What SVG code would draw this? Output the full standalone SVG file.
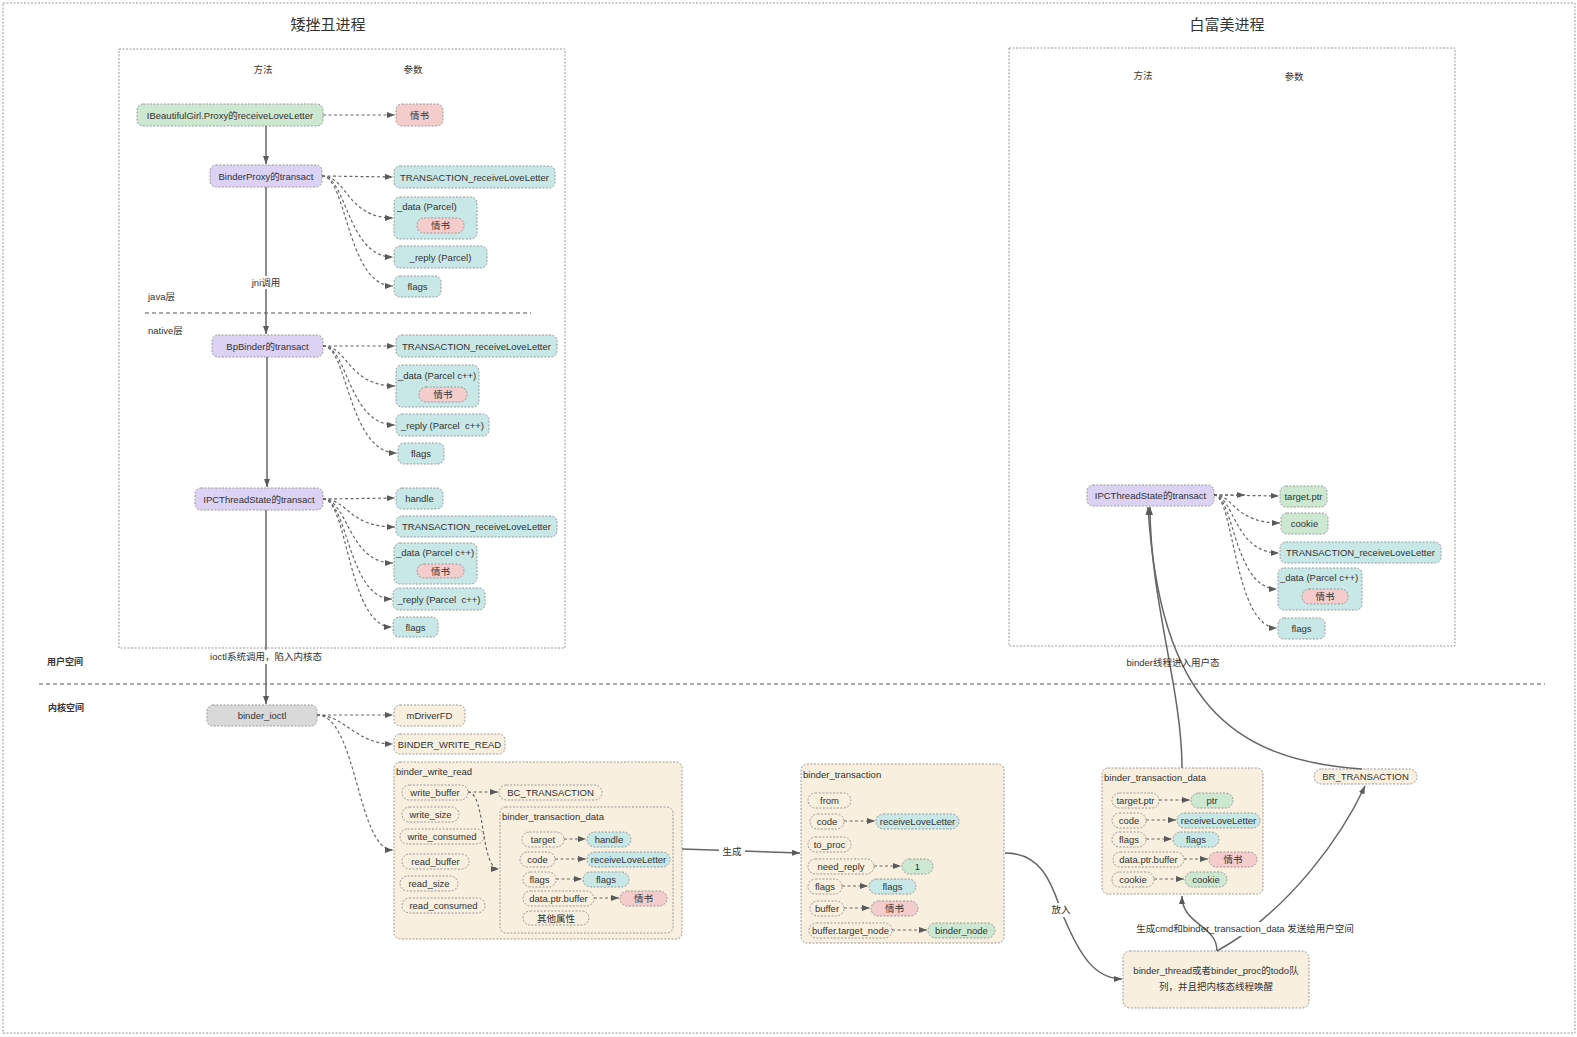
<svg xmlns="http://www.w3.org/2000/svg" width="1577" height="1037" viewBox="0 0 1577 1037">
<defs>
<style>
text{font-family:"Liberation Sans","Noto Sans CJK SC",sans-serif;font-size:9.5px;fill:#333;text-anchor:middle}
.l{text-anchor:start}
.ttl{font-size:15px}
.bold{font-weight:bold;font-size:9px}
.n{stroke:#9a9a9a;stroke-width:1;stroke-dasharray:2 1.5}
.g{fill:#cde8d1}.p{fill:#f4cccc}.v{fill:#dcd2f4}.t{fill:#c8e7e7}.b{fill:#f8efde}.gr{fill:#d9d9d9}.w{fill:none}
.d{fill:none;stroke:#666;stroke-width:1.2;stroke-dasharray:3 2.5;marker-end:url(#a)}
.s{fill:none;stroke:#666;stroke-width:1.5;marker-end:url(#a)}
.frame{fill:none;stroke:#999;stroke-width:1;stroke-dasharray:2 1.5}
.sep{stroke:#555;stroke-width:1;stroke-dasharray:4 3}
</style>
<marker id="a" viewBox="0 0 8 6" refX="8" refY="3" markerWidth="8" markerHeight="6" markerUnits="userSpaceOnUse" orient="auto"><path d="M0,0 L8,3 L0,6 z" fill="#5a5a5a"/></marker>
</defs>
<rect x="0" y="0" width="1577" height="1037" fill="#fff"/>
<rect class="frame" x="3" y="3" width="1572" height="1030"/>

<g id="titles">
<text class="ttl" x="328" y="30">矮挫丑进程</text>
<text class="ttl" x="1227" y="30">白富美进程</text>
</g>

<g id="process-left">
<rect class="frame" x="119" y="49" width="446" height="599"/>
<text x="263" y="73">方法</text>
<text x="413" y="73">参数</text>
<text class="l" x="148" y="300">java层</text>
<text class="l" x="148" y="334">native层</text>
<line class="sep" x1="145" y1="313" x2="531" y2="313"/>
</g>
<g id="process-right">
<rect class="frame" x="1009" y="48" width="446" height="598"/>
<text x="1143" y="79">方法</text>
<text x="1294" y="80">参数</text>
</g>
<g id="space-labels">
<text class="bold" x="65" y="665">用户空间</text>
<text class="bold" x="66" y="711">内核空间</text>
<line class="sep" x1="39" y1="684" x2="1545" y2="684"/>
</g>

<g id="n-ibeautiful"><rect class="n g" x="137" y="104" width="186" height="22" rx="6"/><text x="230" y="118.5">IBeautifulGirl.Proxy的receiveLoveLetter</text></g>
<g id="n-qs1"><rect class="n p" x="396" y="104" width="47" height="22" rx="6"/><text x="419.5" y="118.5">情书</text></g>
<g id="n-binderproxy"><rect class="n v" x="210" y="165" width="112" height="22" rx="6"/><text x="266" y="179.5">BinderProxy的transact</text></g>
<g id="n-bp-code"><rect class="n t" x="394" y="166" width="161" height="22" rx="6"/><text x="474.5" y="180.5">TRANSACTION_receiveLoveLetter</text></g>
<g id="n-bp-data"><rect class="n t" x="394" y="197" width="83" height="42" rx="6"/><text class="l" x="397" y="210">_data (Parcel)</text><rect class="n p" x="417" y="218" width="47" height="15" rx="7"/><text x="440.5" y="229">情书</text></g>
<g id="n-bp-reply"><rect class="n t" x="394" y="246" width="93" height="22" rx="6"/><text x="440.5" y="260.5">_reply (Parcel)</text></g>
<g id="n-bp-flags"><rect class="n t" x="394" y="276" width="47" height="21" rx="6"/><text x="417.5" y="290">flags</text></g>

<g id="n-bpbinder"><rect class="n v" x="212" y="335" width="111" height="22" rx="6"/><text x="267.5" y="349.5">BpBinder的transact</text></g>
<g id="n-bb-code"><rect class="n t" x="396" y="335" width="161" height="22" rx="6"/><text x="476.5" y="349.5">TRANSACTION_receiveLoveLetter</text></g>
<g id="n-bb-data"><rect class="n t" x="396" y="365" width="83" height="42" rx="6"/><text class="l" x="398" y="379">_data (Parcel c++)</text><rect class="n p" x="419" y="387" width="48" height="15" rx="7"/><text x="443" y="398">情书</text></g>
<g id="n-bb-reply"><rect class="n t" x="396" y="414" width="93" height="22" rx="6"/><text x="442.5" y="428.5" xml:space="preserve">_reply (Parcel  c++)</text></g>
<g id="n-bb-flags"><rect class="n t" x="398" y="443" width="46" height="21" rx="6"/><text x="421" y="457">flags</text></g>

<g id="n-ipc-left"><rect class="n v" x="195" y="488" width="128" height="22" rx="6"/><text x="259" y="502.5">IPCThreadState的transact</text></g>
<g id="n-ipc-handle"><rect class="n t" x="396" y="488" width="47" height="21" rx="6"/><text x="419.5" y="502">handle</text></g>
<g id="n-ipc-code"><rect class="n t" x="396" y="516" width="161" height="21" rx="6"/><text x="476.5" y="530">TRANSACTION_receiveLoveLetter</text></g>
<g id="n-ipc-data"><rect class="n t" x="394" y="543" width="83" height="41" rx="6"/><text class="l" x="396" y="556">_data (Parcel c++)</text><rect class="n p" x="417" y="564" width="47" height="14" rx="7"/><text x="440.5" y="574.5">情书</text></g>
<g id="n-ipc-reply"><rect class="n t" x="393" y="588" width="92" height="22" rx="6"/><text x="439" y="602.5" xml:space="preserve">_reply (Parcel  c++)</text></g>
<g id="n-ipc-flags"><rect class="n t" x="393" y="617" width="45" height="20" rx="6"/><text x="415.5" y="630.5">flags</text></g>

<g id="n-binder-ioctl"><rect class="n gr" x="207" y="705" width="110" height="21" rx="6"/><text x="262" y="719">binder_ioctl</text></g>
<g id="n-mdriverfd"><rect class="n b" x="394" y="705" width="71" height="21" rx="6"/><text x="429.5" y="719">mDriverFD</text></g>
<g id="n-bwr-cmd"><rect class="n b" x="394" y="734" width="111" height="20" rx="6"/><text x="449.5" y="747.5">BINDER_WRITE_READ</text></g>

<g id="c-binder-write-read">
<rect class="n b" x="394" y="762" width="288" height="177" rx="6"/>
<text class="l" x="396" y="775">binder_write_read</text>
<rect class="n b" x="402" y="785" width="66" height="15" rx="7.5"/><text x="435" y="796">write_buffer</text>
<rect class="n b" x="499" y="785" width="103" height="15" rx="7.5"/><text x="550.5" y="796">BC_TRANSACTION</text>
<rect class="n b" x="402" y="807" width="57" height="15" rx="7.5"/><text x="430.5" y="818">write_size</text>
<rect class="n b" x="400" y="829" width="84" height="15" rx="7.5"/><text x="442" y="840">write_consumed</text>
<rect class="n b" x="402" y="854" width="67" height="15" rx="7.5"/><text x="435.5" y="865">read_buffer</text>
<rect class="n b" x="400" y="876" width="58" height="15" rx="7.5"/><text x="429" y="887">read_size</text>
<rect class="n b" x="402" y="898" width="83" height="15" rx="7.5"/><text x="443.5" y="909">read_consumed</text>
</g>
<g id="c-btd-left">
<rect class="n b" x="500" y="807" width="173" height="126" rx="6"/>
<text class="l" x="502" y="820">binder_transaction_data</text>
<rect class="n b" x="522" y="832" width="42" height="15" rx="7.5"/><text x="543" y="843">target</text>
<rect class="n t" x="587" y="832" width="44" height="15" rx="7.5"/><text x="609" y="843">handle</text>
<rect class="n b" x="520" y="852" width="35" height="15" rx="7.5"/><text x="537.5" y="863">code</text>
<rect class="n t" x="587" y="852" width="83" height="15" rx="7.5"/><text x="628.5" y="863">receiveLoveLetter</text>
<rect class="n b" x="523" y="872" width="33" height="15" rx="7.5"/><text x="539.5" y="883">flags</text>
<rect class="n t" x="583" y="872" width="46" height="15" rx="7.5"/><text x="606" y="883">flags</text>
<rect class="n b" x="523" y="891" width="71" height="15" rx="7.5"/><text x="558.5" y="902">data.ptr.buffer</text>
<rect class="n p" x="620" y="891" width="47" height="15" rx="7.5"/><text x="643.5" y="902">情书</text>
<rect class="n b" x="523" y="911" width="66" height="14" rx="7"/><text x="556" y="921.5">其他属性</text>
</g>
<g id="c-binder-transaction">
<rect class="n b" x="801" y="764" width="203" height="179" rx="6"/>
<text class="l" x="803" y="778">binder_transaction</text>
<rect class="n b" x="808" y="793" width="43" height="15" rx="7.5"/><text x="829.5" y="804">from</text>
<rect class="n b" x="810" y="814" width="34" height="15" rx="7.5"/><text x="827" y="825">code</text>
<rect class="n t" x="876" y="814" width="83" height="15" rx="7.5"/><text x="917.5" y="825">receiveLoveLetter</text>
<rect class="n b" x="808" y="837" width="43" height="15" rx="7.5"/><text x="829.5" y="848">to_proc</text>
<rect class="n b" x="808" y="859" width="66" height="15" rx="7.5"/><text x="841" y="870">need_reply</text>
<rect class="n g" x="902" y="859" width="31" height="15" rx="7.5"/><text x="917.5" y="870">1</text>
<rect class="n b" x="808" y="879" width="34" height="15" rx="7.5"/><text x="825" y="890">flags</text>
<rect class="n t" x="869" y="879" width="47" height="15" rx="7.5"/><text x="892.5" y="890">flags</text>
<rect class="n b" x="810" y="901" width="34" height="15" rx="7.5"/><text x="827" y="912">buffer</text>
<rect class="n p" x="871" y="901" width="47" height="15" rx="7.5"/><text x="894.5" y="912">情书</text>
<rect class="n b" x="809" y="923" width="83" height="15" rx="7.5"/><text x="850.5" y="934">buffer.target_node</text>
<rect class="n g" x="928" y="923" width="67" height="15" rx="7.5"/><text x="961.5" y="934">binder_node</text>
</g>
<g id="c-btd-right">
<rect class="n b" x="1102" y="768" width="161" height="126" rx="6"/>
<text class="l" x="1104" y="781">binder_transaction_data</text>
<rect class="n b" x="1112" y="793" width="47" height="15" rx="7.5"/><text x="1135.5" y="804">target.ptr</text>
<rect class="n g" x="1191" y="793" width="42" height="15" rx="7.5"/><text x="1212" y="804">ptr</text>
<rect class="n b" x="1112" y="813" width="34" height="15" rx="7.5"/><text x="1129" y="824">code</text>
<rect class="n t" x="1177" y="813" width="83" height="15" rx="7.5"/><text x="1218.5" y="824">receiveLoveLetter</text>
<rect class="n b" x="1112" y="832" width="34" height="15" rx="7.5"/><text x="1129" y="843">flags</text>
<rect class="n t" x="1173" y="832" width="46" height="15" rx="7.5"/><text x="1196" y="843">flags</text>
<rect class="n b" x="1113" y="852" width="71" height="15" rx="7.5"/><text x="1148.5" y="863">data.ptr.buffer</text>
<rect class="n p" x="1209" y="852" width="48" height="15" rx="7.5"/><text x="1233" y="863">情书</text>
<rect class="n b" x="1112" y="872" width="42" height="15" rx="7.5"/><text x="1133" y="883">cookie</text>
<rect class="n g" x="1185" y="872" width="42" height="15" rx="7.5"/><text x="1206" y="883">cookie</text>
</g>
<g id="n-br-transaction"><rect class="n b" x="1314" y="769" width="103" height="15" rx="7.5"/><text x="1365.5" y="780">BR_TRANSACTION</text></g>
<g id="n-todo"><rect class="n b" x="1123" y="951" width="186" height="57" rx="7"/><text x="1216" y="974">binder_thread或者binder_proc的todo队</text><text x="1216" y="990">列，并且把内核态线程唤醒</text></g>

<g id="n-ipc-right"><rect class="n v" x="1087" y="485" width="127" height="21" rx="6"/><text x="1150.5" y="499">IPCThreadState的transact</text></g>
<g id="n-r-target"><rect class="n g" x="1280" y="486" width="47" height="21" rx="6"/><text x="1303.5" y="500">target.ptr</text></g>
<g id="n-r-cookie"><rect class="n g" x="1281" y="513" width="47" height="21" rx="6"/><text x="1304.5" y="527">cookie</text></g>
<g id="n-r-code"><rect class="n t" x="1280" y="542" width="161" height="21" rx="6"/><text x="1360.5" y="556">TRANSACTION_receiveLoveLetter</text></g>
<g id="n-r-data"><rect class="n t" x="1278" y="568" width="84" height="42" rx="6"/><text class="l" x="1280" y="581">_data (Parcel c++)</text><rect class="n p" x="1302" y="589" width="46" height="15" rx="7"/><text x="1325" y="600">情书</text></g>
<g id="n-r-flags"><rect class="n t" x="1278" y="618" width="47" height="21" rx="6"/><text x="1301.5" y="632">flags</text></g>

<g id="connectors">
<path class="s" d="M266,126 L266,164"/>
<path class="s" d="M266,187 L266,334"/>
<path class="s" d="M267,357 L267,487"/>
<path class="s" d="M266,510 L266,704"/>
<path class="d" d="M323,115 L395,115"/>
<path class="d" d="M322,176 L393,177"/>
<path class="d" d="M322,176 C347,176 347,218 393,218"/>
<path class="d" d="M322,176 C347,176 347,257 393,257"/>
<path class="d" d="M322,176 C347,176 347,286 393,286"/>
<path class="d" d="M323,346 L395,346"/>
<path class="d" d="M323,346 C348,346 348,386 395,386"/>
<path class="d" d="M323,346 C348,346 348,425 395,425"/>
<path class="d" d="M323,346 C348,346 348,453 397,453"/>
<path class="d" d="M323,499 L395,498"/>
<path class="d" d="M323,499 C348,499 348,527 395,527"/>
<path class="d" d="M323,499 C348,499 348,563 393,563"/>
<path class="d" d="M323,499 C348,499 348,599 392,599"/>
<path class="d" d="M323,499 C348,499 348,627 392,627"/>
<path class="d" d="M317,715 L393,715"/>
<path class="d" d="M317,715 C345,715 355,744 393,744"/>
<path class="d" d="M317,715 C357,715 357,850 393,850"/>
<path class="d" d="M468,792 L498,792"/>
<path class="d" d="M468,792 C486,792 480,869 499,869"/>
<path class="d" d="M564,839 L586,839"/>
<path class="d" d="M555,859 L586,859"/>
<path class="d" d="M556,879 L582,879"/>
<path class="d" d="M594,898 L619,898"/>
<path class="s" d="M682,849 L800,853"/>
<path class="d" d="M844,821 L875,821"/>
<path class="d" d="M874,866 L901,866"/>
<path class="d" d="M842,886 L868,886"/>
<path class="d" d="M844,908 L870,908"/>
<path class="d" d="M892,930 L927,930"/>
<path class="s" d="M1005,853 C1050,853 1055,900 1065,920 C1080,955 1095,979 1122,979"/>
<path class="d" d="M1159,800 L1190,800"/>
<path class="d" d="M1146,820 L1176,820"/>
<path class="d" d="M1146,839 L1172,839"/>
<path class="d" d="M1184,859 L1208,859"/>
<path class="d" d="M1154,879 L1184,879"/>
<path class="s" d="M1217,951 C1217,925 1182,925 1182,896"/>
<path class="s" d="M1217,951 L1232,942 C1290,905 1340,840 1365,786"/>
<path class="s" d="M1182,768 C1182,690 1150,600 1150,507"/>
<path class="s" d="M1362,769 C1230,760 1160,700 1148,507"/>
<path class="d" d="M1214,495 L1245,495"/>
<path class="d" d="M1214,495 L1279,496"/>
<path class="d" d="M1214,495 C1234,495 1234,523 1280,523"/>
<path class="d" d="M1214,495 C1234,495 1234,553 1279,553"/>
<path class="d" d="M1214,495 C1234,495 1234,589 1277,589"/>
<path class="d" d="M1214,495 C1234,495 1234,628 1277,628"/>
</g>

<g id="edge-labels">
<rect x="248" y="276" width="36" height="13" fill="#fff"/>
<text x="266" y="286">jni调用</text>
<rect x="206" y="650" width="120" height="14" fill="#fff"/>
<text x="266" y="660">ioctl系统调用，陷入内核态</text>
<rect x="719" y="845" width="26" height="13" fill="#fff"/>
<text x="732" y="855">生成</text>
<rect x="1049" y="903" width="25" height="14" fill="#fff"/>
<text x="1061" y="913">放入</text>
<text x="1173" y="666">binder线程进入用户态</text>
<rect x="1226" y="922" width="34" height="14" fill="#fff"/>
<text x="1245" y="932">生成cmd和binder_transaction_data 发送给用户空间</text>
</g>
</svg>
